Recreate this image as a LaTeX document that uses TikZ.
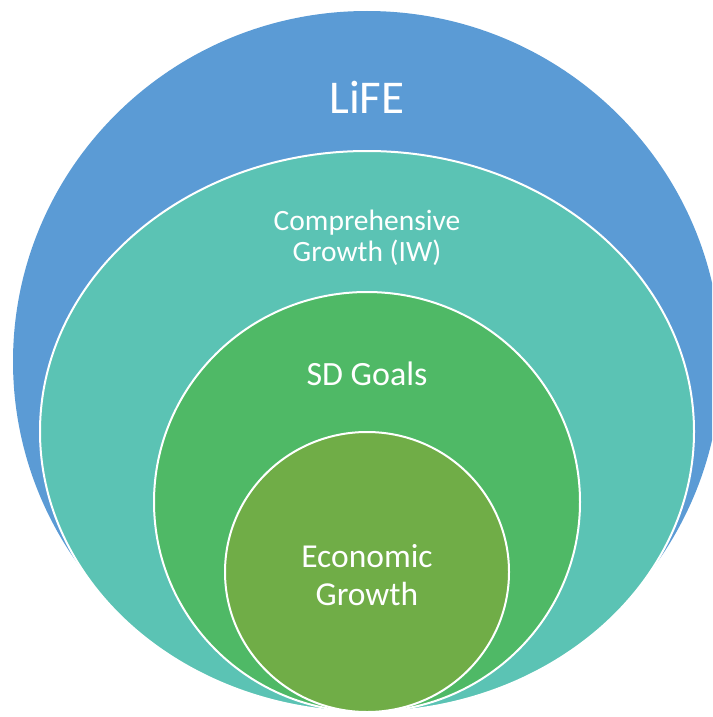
\documentclass[tikz,border=0pt]{standalone}
\usepackage{fontspec}
\setmainfont{Carlito}
\usetikzlibrary{calc}
\definecolor{lifeblue}{HTML}{5B9BD5}
\definecolor{growteal}{HTML}{5BC3B4}
\definecolor{goalgreen}{HTML}{4FB966}
\definecolor{econolive}{HTML}{70AD47}
\tikzset{ring/.style={draw=white, line width=2pt}, label text/.style={text=white, align=center, inner sep=0pt}}

\begin{document}
\begin{tikzpicture}[x=1pt,y=-1pt]
\useasboundingbox (0,0) rectangle (712,717);
\clip (0,0) rectangle (712,717);
\fill[lifeblue] (367,361.5) ellipse [x radius=354, y radius=350.5];
\filldraw[ring, fill=growteal] (367,431.5) ellipse [x radius=327, y radius=280.5];
\filldraw[ring, fill=goalgreen] (367,502) ellipse [x radius=213, y radius=210];
\filldraw[ring, fill=econolive] (367,572) ellipse [x radius=142, y radius=140];

\node[label text, font=\fontsize{47}{47}\selectfont] (life) at (367,97) {LiFE};
\node[label text, font=\fontsize{29.5}{31}\selectfont] (cg) at (367,238) {Comprehensive\\Growth (IW)};
\node[label text, font=\fontsize{34}{38}\selectfont] (sdg) at (367,374) {SD Goals};
\node[label text, font=\fontsize{33.5}{38}\selectfont] (eg) at (367,575) {Economic\\Growth};
\end{tikzpicture}
\end{document}
